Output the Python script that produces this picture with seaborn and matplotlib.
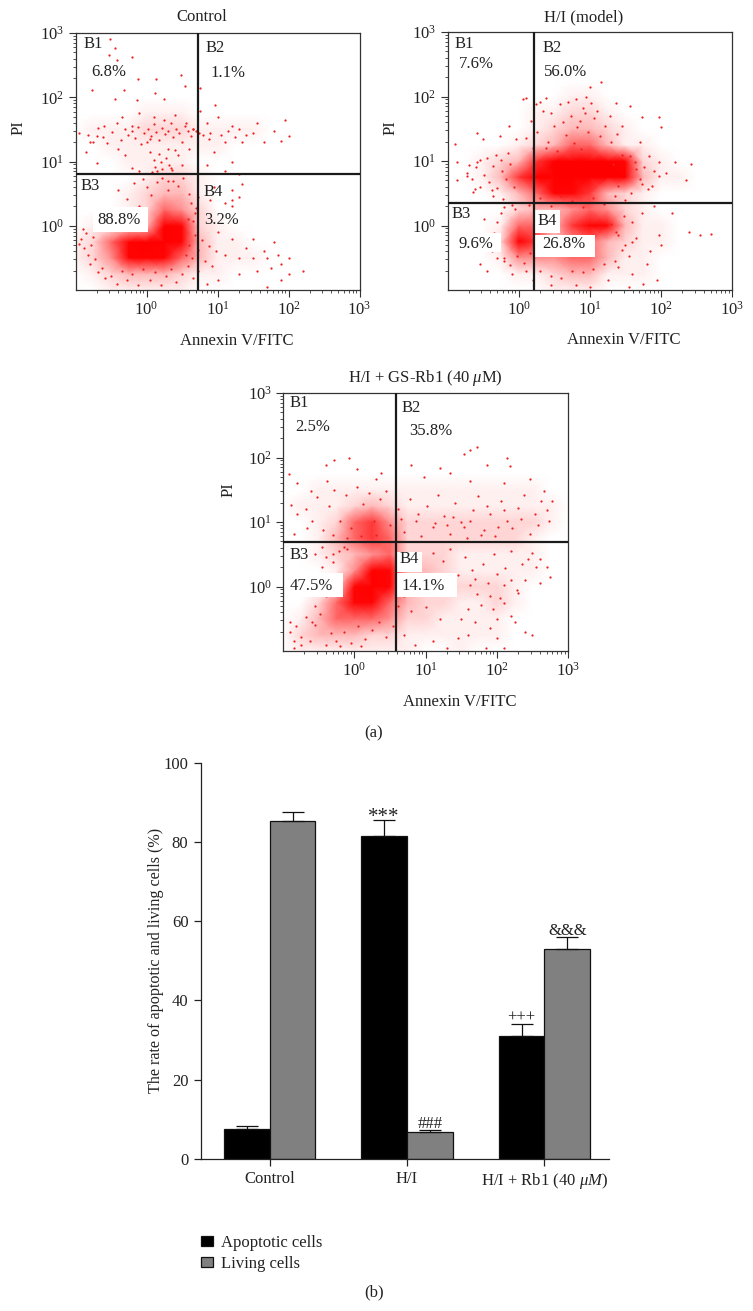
import numpy as np
import pandas as pd
import matplotlib
matplotlib.use("Agg")
import matplotlib.pyplot as plt
from matplotlib.colors import LinearSegmentedColormap
from matplotlib.patches import Rectangle
import seaborn as sns

W, H = 753, 1311

# flow cytometry: density read by eye, one digit (0-9) per 0.25 decade node, top row is 10^3
GRID_LOG = [-1, -.75, -.5, -.25, 0, .25, .5, .75, 1, 1.25, 1.5, 1.75, 2, 2.25, 2.5, 2.75, 3]
BLANK = "00000000000000000"

control_density = [
    BLANK, BLANK, BLANK, BLANK, BLANK,
    "00001110000000000",
    "01112221111000000",
    "00111111100000000",
    "00011110000000000",
    "00001221000000000",
    "00012331000000000",
    "00012542000000000",
    "01123972100000000",
    "12589973110000000",
    "12478753111000000",
    "01233321100000000",
    "00111110000000000",
]

model_density = [
    BLANK, BLANK, BLANK, BLANK,
    "00000001100000000",
    "00000112210000000",
    "00000123321000000",
    "00001235531100000",
    "00123699997210000",
    "00136999999311000",
    "00013577632100000",
    "00002334542100000",
    "00015536873110000",
    "00029634532110000",
    "00014445531100000",
    "00001123311100000",
    "00000011100000000",
]

rb1_density = [
    BLANK, BLANK, BLANK, BLANK, BLANK,
    BLANK,
    "00111111111111100",
    "01112321111111110",
    "00125642222222210",
    "00135652222222100",
    "00123452221111100",
    "00014873321111100",
    "00027973222221000",
    "00257753221121000",
    "01355542211110000",
    "02333221111110000",
    "01111111001000000",
]

control_x = [-.51, -.44, -.53, -.42, -.21, .49, .13, -.12, -.77, -.31, .12, .54, .75, -.45, -.14, .24, .96, .75,
             1.0, 1.2, 1.3, 1.5, 1.55, 1.65, 1.8, 1.9, 1.95, 2.0, 1.1, 1.35, .9, .85, .95, 1.2, .85, 1.1, 1.3, .95,
             1.0, 1.2, 1.4, 1.5, 1.3, 1.1, 1.5, 1.65, 1.8, 1.7, 1.9, 2.0, 1.85, 2.0, 2.2, 1.9, 1.75, 1.55, 1.3, 1.0,
             .85, 1.7, 1.2, 1.2, 1.3, 1.2, 1.35, .9, 1.1, -.95, -.8, -.7, -.6, -.85, -.7, -.4, -.3, -.2, -.1,
             -.35, -.1, .1, .25, .4, .55, .65, .05, .3, .45, -.2, 0, .2, .35, .6, .15, .3, .5,
             -.82, -.75, -.68, -.61, -.55, -.48, -.42, -.36, -.3, -.26,
             -.2, -.16, -.12, -.08, -.04, .02, .06, .1, .14, .18,
             .22, .26, .3, .34, .38, .42, .46, .5, .54, .58,
             .62, .66, .7, .74, .8, .88, 1.05, 1.15, 1.25, 1.4,
             .05, .1, .12, .18, .22, .28, .32, .36, .4, .08,
             -.05, 0, .06, .15, .22, .3, .38, .45, .52, .6,
             -.4, -.28, -.18, -.1, .62, .68, .72, .58, .66, .7,
             -.95, -.92, -.88, -.85, -.82, -.78, -.75, -.72, -.9, -.8,
             -.68, -.62, -.58, -.5, -.42, -.35, -.28, -.2, -.12, -.05,
             .05, .12, .2, .28, .35, .42, .5, .58, .65, .72,
             .56, .6, .64, .68, .72, .78, .82, .88, .92, .98]
control_y = [2.91, 2.76, 2.66, 2.58, 2.63, 2.34, 2.28, 2.29, 2.11, 2.11, 2.07, 2.17, 2.14, 1.98, 1.96, 1.98, 1.88, 1.79,
             1.7, 1.55, 1.5, 1.45, 1.6, 1.3, 1.48, 1.32, 1.65, 1.4, 1.3, 1.3, 1.45, 1.6, 1.15, 1.0, .95, .85, .8, .6,
             -.1, -.2, -.35, -.2, -.5, -.45, -.5, -.4, -.25, -.5, -.6, -.5, -.45, -.75, -.7, -.85, -.65, -.7, -.75, -.85,
             -.9, -.95, .3, .4, .45, .55, .65, .4, .35, 1.45, 1.3, 1.4, 1.55, 1.15, .97, 1.2, 1.1, .9, .85,
             1.7, 1.75, 1.7, 1.65, 1.72, 1.6, 1.5, 1.35, 1.2, 1.1, 1.55, 1.3, 1.0, .9, 1.2, .85, .7, .95,
             1.42, 1.31, 1.52, 1.38, 1.29, 1.46, 1.6, 1.34, 1.5, 1.41,
             1.47, 1.36, 1.54, 1.28, 1.44, 1.5, 1.39, 1.58, 1.46, 1.33,
             1.52, 1.43, 1.47, 1.6, 1.38, 1.5, 1.44, 1.31, 1.55, 1.47,
             1.4, 1.5, 1.48, 1.45, 1.42, 1.35, 1.42, 1.48, 1.38, 1.42,
             1.15, 1.02, .92, 1.12, .88, 1.05, .95, .86, 1.18, .84,
             .72, .6, .48, .68, .74, .56, .7, .62, .75, .5,
             .55, .42, .66, .3, .35, .2, .45, .1, .08, .28,
             -.28, -.2, -.35, -.12, -.45, -.3, -.18, -.52, -.05, -.6,
             -.72, -.65, -.82, -.78, -.9, -.7, -.85, -.75, -.92, -.68,
             -.85, -.72, -.92, -.78, -.68, -.88, -.75, -.62, -.82, -.7,
             -.45, -.3, -.5, -.15, -.38, -.22, -.55, -.32, -.62, -.4]

model_x = [.11, .25, .39, 1.0, 1.16, .95, .81, 1.37, 1.56, 1.98, 1.74, 2.0, 1.28, 1.46, 1.7, 1.84, 1.98, 2.2, 2.42, 2.35,
           2.07, 1.98, 1.88, 1.74, 1.65, 1.56, -.9, -.87, -.59, -.26, -.5, .06, -.13, -.03, -.87, -.64, -.36, -.22, -.59, -.73,
           1.37, 1.74, 1.6, 1.5, 1.65, 1.85, 1.98, 2.0, 1.9, 2.15, 2.4, 2.55, 2.7, 1.8, 1.95, 1.6, 1.4, 1.25, 1.55, 1.75,
           1.0, .8, .45, -.55, -.45, -.2, -.1, .1, .2,
           -.72, -.66, -.6, -.54, -.48, -.42, -.36, -.3, -.24, -.18,
           -.12, -.06, -.7, -.62, -.55, -.45, -.38, -.32, -.25, -.15,
           .1, .18, .26, .34, .42, .5, .58, .66, .74, .82,
           .9, .98, 1.06, 1.14, 1.22, 1.3, 1.38, .3, .46, .62,
           .7, .78, .86, .94, 1.02, 1.1, .2, .38, .54, .88,
           1.32, 1.4, 1.46, 1.52, 1.58, 1.64, 1.7, 1.76, 1.82, 1.9,
           .3, .45, .6, .75, .9, 1.05, 1.2, 1.35, 1.5, .15,
           -.3, -.35, -.42, -.28, -.25, -.2, -.1, -.05, -.38, -.48,
           -.3, -.2, -.12, -.02, .08, .16, .3, .45, .6, .75,
           .9, 1.05, 1.2, 1.35, 1.45, 1.3, 1.4, 1.48, 1.55, 1.6]
model_y = [1.97, 1.88, 1.98, 2.14, 2.22, 2.0, 1.96, 1.9, 1.86, 1.68, 1.68, 1.52, 1.7, 1.55, 1.29, 1.08, .98, .98, .95, .7,
           .82, .77, .62, .64, .88, 1.08, 1.26, .98, 1.44, 1.38, 1.34, 1.96, 1.55, 1.34, .7, .52, .46, .41, .98, .77,
           -.1, .2, .05, -.3, -.2, -.4, -.15, -.3, .3, .2, -.1, -.15, -.13, -.6, -.85, -.75, -.65, -.85, -.95, -.9,
           -.95, -.92, -.93, -.6, -.7, -.5, -.75, -.7, -.85,
           .82, .72, .9, .6, .78, .68, .92, .58, .84, .72,
           .96, .6, .94, .56, 1.02, 1.05, .55, 1.1, 1.02, 1.12,
           1.35, 1.62, 1.45, 1.78, 1.3, 1.55, 1.88, 1.4, 1.7, 1.52,
           1.82, 1.45, 1.66, 1.38, 1.55, 1.3, 1.42, 1.92, 1.74, 1.6,
           1.92, 1.28, 1.62, 1.74, 1.9, 1.78, 1.2, 1.2, 1.16, 1.18,
           .95, .62, 1.1, .78, .5, .98, .72, .9, .56, .84,
           .42, .3, .45, .38, .28, .42, .34, .46, .4, .32,
           .05, -.12, -.25, -.38, .2, .28, .32, .25, -.4, .1,
           -.5, -.55, -.62, -.48, -.58, -.42, -.7, -.78, -.82, -.7,
           -.72, -.68, -.6, -.55, -.38, .02, -.15, .15, -.48, -.25]

rb1_x = [-.07, -.29, -.4, .04, -.91, .37, .3, 1.72, 1.54, 1.63, 2.14, 2.19, 1.86, 1.21, 1.35, .79, .98, 1.63, 2.1, 2.47,
         2.66, 2.78, 2.73, -.8, -.61, -.38, -.89, -.8, -.85, -.66,
         1.2, 1.5, 1.7, 2.0, 2.2, 2.25, 2.4, 2.5, 2.0, 1.85, 2.1, 1.6, 1.9, 1.45, 1.1, .85, 1.3, .7, 2.7, 2.75, 2.55, 2.4,
         2.6, 2.3, 2.1, 1.95, -.9, -.85, -.85, -.75, -.6, -.55, -.85, -.45, -.5, -.4, -.3,
         .62, .7, .78, .86, .94, 1.02, 1.1, 1.18, 1.26, 1.34,
         1.42, 1.5, 1.58, 1.66, 1.74, 1.82, 1.9, 1.98, 2.06, 2.14,
         2.22, 2.3, 2.38, 2.46, 2.54, 2.62, 2.7, .66, .9, 1.14,
         1.38, 1.62, 1.86, 2.1, 2.34, 2.58, 2.02, 1.78, 1.54, 1.3,
         -.68, -.6, -.52, -.44, -.36, -.28, -.2, -.12, -.04, .04,
         .12, .2, .28, .36, .44, .5, -.3, -.1, .1, .3,
         .62, .7, .8, 1.0, 1.1, 1.25, 1.35, 1.45, 1.55, 1.65,
         1.72, 1.8, 1.88, 1.96, 2.04, 2.12, 2.2, 2.28, 2.36, 2.44,
         1.6, 1.7, 1.78, 1.9, 2.0, 1.62, 2.1, 2.2, 2.5, 2.6,
         -.9, -.82, -.75, -.68, -.62, -.55, -.48, -.4, -.32, -.25,
         -.15, -.05, .05, .15, .25, .35, .45, .55, -.2, .1,
         -.55, -.45, -.38, -.3, -.22, -.15, -.35, -.25, -.1, -.4]
rb1_y = [2.0, 1.96, 1.89, 1.82, 1.75, 1.76, 1.66, 2.16, 2.05, 2.12, 2.0, 1.87, 1.89, 1.84, 1.76, 1.89, 1.69, 1.63, 1.61, 1.66,
         1.48, 1.32, 1.02, 1.61, 1.48, 1.63, 1.27, 1.12, .81, .91,
         -.5, -.5, -.55, -.5, -.45, -.55, -.7, -.75, -.8, -.95, -.95, -.75, -.65, -.8, -.85, -.9, -.95, -.75, .3, .15, .3, .1,
         .05, -.1, -.25, -.35, -.55, -.85, -.95, -.9, -.55, -.3, .2, .3, .1, .45, .5,
         1.2, .85, 1.35, 1.02, .78, 1.25, .92, 1.42, 1.1, .82,
         1.3, 1.0, .75, 1.18, 1.4, .88, 1.12, .78, 1.33, 1.02,
         .9, 1.22, 1.42, .82, 1.12, 1.32, 1.18, 1.05, 1.12, .98,
         1.08, 1.02, 1.25, 1.18, 1.04, .95, .92, .8, .92, .95,
         1.2, 1.02, 1.38, .88, 1.25, 1.5, 1.02, 1.42, .9, 1.55,
         1.28, 1.45, 1.02, 1.35, 1.48, .95, .8, .75, .78, .8,
         -.3, -.15, -.38, -.32, .52, .4, .58, .18, .45, .25,
         -.12, .35, .05, .5, -.18, .28, .55, -.05, .35, .42,
         -.35, .12, -.28, -.15, .2, .02, .02, .1, .52, .42,
         -.7, -.62, -.78, -.48, -.85, -.6, -.42, -.9, -.72, -.85,
         -.7, -.88, -.62, -.82, -.68, -.55, -.78, -.62, -.92, -.92,
         .5, .62, .2, .38, .55, .62, .05, .12, .58, -.15]

# gates
control_gate = (5.3, 6.45)
model_gate = (1.62, 2.24)
rb1_gate = (3.84, 4.9)

# bar chart
groups = ["Control", "H/I", "H/I + Rb1 (40 $\\mathit{\\mu M}$)"]
series_names = ["Apoptotic cells", "Living cells"]
apoptotic = [7.5, 81.6, 31.0]
living = [85.4, 6.8, 52.9]
apoptotic_err = [0.8, 4.0, 3.0]
living_err = [2.2, 0.4, 3.1]
apoptotic_marks = ["", "***", "+++"]
living_marks = ["", "###", "&&&"]

sns.set_theme(style="white")
plt.rcParams["font.family"] = ["Liberation Serif", "DejaVu Serif"]
plt.rcParams["mathtext.fontset"] = "custom"
plt.rcParams["mathtext.rm"] = "Liberation Serif"
plt.rcParams["mathtext.it"] = "Liberation Serif:italic"
plt.rcParams["mathtext.default"] = "regular"

TEXT = "#222222"
FS = 12
fig = plt.figure(figsize=(W / 100, H / 100), dpi=100)
haze = LinearSegmentedColormap.from_list(
    "haze", [(0, "#ffffff"), (1 / 9, "#fff0f0"), (3 / 9, "#ffb8b8"), (5 / 9, "#ff6868"), (7 / 9, "#ff0505"), (1, "#ff0000")])


def put(x, y, s, **kw):
    kw.setdefault("fontsize", FS)
    kw.setdefault("color", TEXT)
    fig.text(x / W, 1 - y / H, s, ha="center", va="center", **kw)


def flow_panel(box, density, xs, ys, gate, masks, labels):
    left, top, right, bottom = box
    ax = fig.add_axes([left / W, 1 - bottom / H, (right - left) / W, (bottom - top) / H])
    grid = np.array([[int(c) for c in row] for row in density[::-1]], dtype=float)
    nodes = 10.0 ** np.array(GRID_LOG)
    ax.set_xscale("log")
    ax.set_yscale("log")
    ax.pcolormesh(nodes, nodes, grid, shading="gouraud", cmap=haze, vmin=0, vmax=9, zorder=1)
    sns.scatterplot(x=10.0 ** np.array(xs), y=10.0 ** np.array(ys), s=2.6, color="#f02020",
                    linewidth=0, ax=ax, zorder=2)
    ax.set_xlim(0.1, 1000)
    ax.set_ylim(0.1, 1000)
    ax.axvline(gate[0], color="#1a1a1a", lw=1.6, zorder=4)
    ax.axhline(gate[1], color="#1a1a1a", lw=1.6, zorder=4)
    decades = [1, 10, 100, 1000]
    names = ["$10^{0}$", "$10^{1}$", "$10^{2}$", "$10^{3}$"]
    minor = [m * d for d in [0.1, 1, 10, 100] for m in range(2, 10)]
    for axis in (ax.xaxis, ax.yaxis):
        axis.set_ticks(decades)
        axis.set_ticklabels(names)
        axis.set_ticks(minor, minor=True)
        axis.set_ticklabels([], minor=True)
    ax.tick_params(which="major", length=5, width=0.8, color="#333333", labelsize=FS, labelcolor=TEXT, pad=3,
                   bottom=True, left=True)
    ax.tick_params(which="minor", length=2.5, width=0.6, color="#333333", bottom=True, left=True)
    ax.grid(False)
    for sp in ax.spines.values():
        sp.set_color("#333333")
        sp.set_linewidth(0.9)
    # white boxes behind the percentage labels, as in the original artwork
    for x0, y0, x1, y1 in masks:
        ax.add_patch(Rectangle((x0 / W, 1 - y1 / H), (x1 - x0) / W, (y1 - y0) / H, transform=fig.transFigure,
                               facecolor="white", edgecolor="none", zorder=3))
    for s, x, y in labels:
        put(x, y, s)
    return ax


flow_panel((75.5, 33, 359.5, 290), control_density, control_x, control_y, control_gate,
           [(93, 207, 148, 232)],
           [("B1", 93, 44), ("6.8%", 109, 72), ("B2", 215, 48), ("1.1%", 228, 73),
            ("B3", 90, 186), ("88.8%", 119, 220), ("B4", 213, 192), ("3.2%", 222, 220)])
put(202, 17, "Control")
put(19, 128, "PI", rotation=90)
put(237, 341, "Annexin V/FITC")

flow_panel((447.5, 32, 732, 290), model_density, model_x, model_y, model_gate,
           [(456, 233, 501, 252), (535, 210, 560, 233), (535, 235, 595, 257)],
           [("B1", 464, 44), ("7.6%", 476, 64), ("B2", 552, 48), ("56.0%", 566, 72),
            ("B3", 461, 214), ("9.6%", 476, 244), ("B4", 547, 221), ("26.8%", 564, 244)])
put(584, 17, "H/I (model)")
put(391, 128, "PI", rotation=90)
put(624, 340, "Annexin V/FITC")

flow_panel((283, 393, 568, 651), rb1_density, rb1_x, rb1_y, rb1_gate,
           [(290, 573, 343, 597), (397, 552, 422, 572), (397, 573, 457, 597)],
           [("B1", 299, 403), ("2.5%", 313, 427), ("B2", 411, 408), ("35.8%", 431, 431),
            ("B3", 299, 555), ("47.5%", 311, 586), ("B4", 409, 559), ("14.1%", 423, 586)])
put(425, 378, "H/I + GS-Rb1 (40 $\\mathit{\\mu}$M)")
put(229, 490, "PI", rotation=90)
put(460, 702, "Annexin V/FITC")
put(374, 733, "(a)")

# bar chart panel
df = pd.DataFrame({
    "group": groups * 2,
    "rate": apoptotic + living,
    "kind": [series_names[0]] * 3 + [series_names[1]] * 3,
})
ax = fig.add_axes([201 / W, 1 - 1158.7 / H, (609 - 201) / W, (1158.7 - 762.7) / H])
sns.barplot(data=df, x="group", y="rate", hue="kind", palette=["#000000", "#808080"], width=2 / 3, gap=0,
            edgecolor="#111111", linewidth=0.9, errorbar=None, ax=ax)
ax.set_xlim(-0.5, 2.47)
ax.set_ylim(0, 100)
ax.set_yticks([0, 20, 40, 60, 80, 100])
ax.set_xlabel("")
ax.set_ylabel("The rate of apoptotic and living cells (%)", fontsize=11.6, color=TEXT, labelpad=0)
ax.tick_params(axis="both", length=5, width=0.9, color="#222222", labelsize=FS, labelcolor=TEXT, bottom=True, left=True, pad=4)
ax.tick_params(axis="x", pad=4)
sns.despine(ax=ax)
for sp in ("left", "bottom"):
    ax.spines[sp].set_color("#222222")
    ax.spines[sp].set_linewidth(0.9)

for cont, vals, errs, marks in zip(ax.containers, [apoptotic, living], [apoptotic_err, living_err],
                                   [apoptotic_marks, living_marks]):
    centers = [p.get_x() + p.get_width() / 2 for p in cont.patches]
    ax.errorbar(centers, vals, yerr=[[0] * 3, errs], fmt="none", ecolor="#111111", elinewidth=0.9,
                capsize=8.2, capthick=0.9)
    for cx, v, e, m in zip(centers, vals, errs, marks):
        if m:
            stars = m == "***"
            ax.annotate(m, (cx, v + e), xytext=(0, -5 if stars else -1.2), textcoords="offset points", ha="center",
                        va="bottom", fontsize=15 if stars else FS, color=TEXT)

handles, labels = ax.get_legend_handles_labels()
ax.legend(handles, labels, loc="upper left", bbox_to_anchor=(186 / W, 1 - 1220 / H), bbox_transform=fig.transFigure,
          frameon=False, fontsize=FS, handlelength=0.72, handleheight=0.6, handletextpad=0.5, labelspacing=0.28,
          labelcolor=TEXT)
put(374, 1292, "(b)")

fig.savefig("out.png", dpi=100, facecolor="white")
